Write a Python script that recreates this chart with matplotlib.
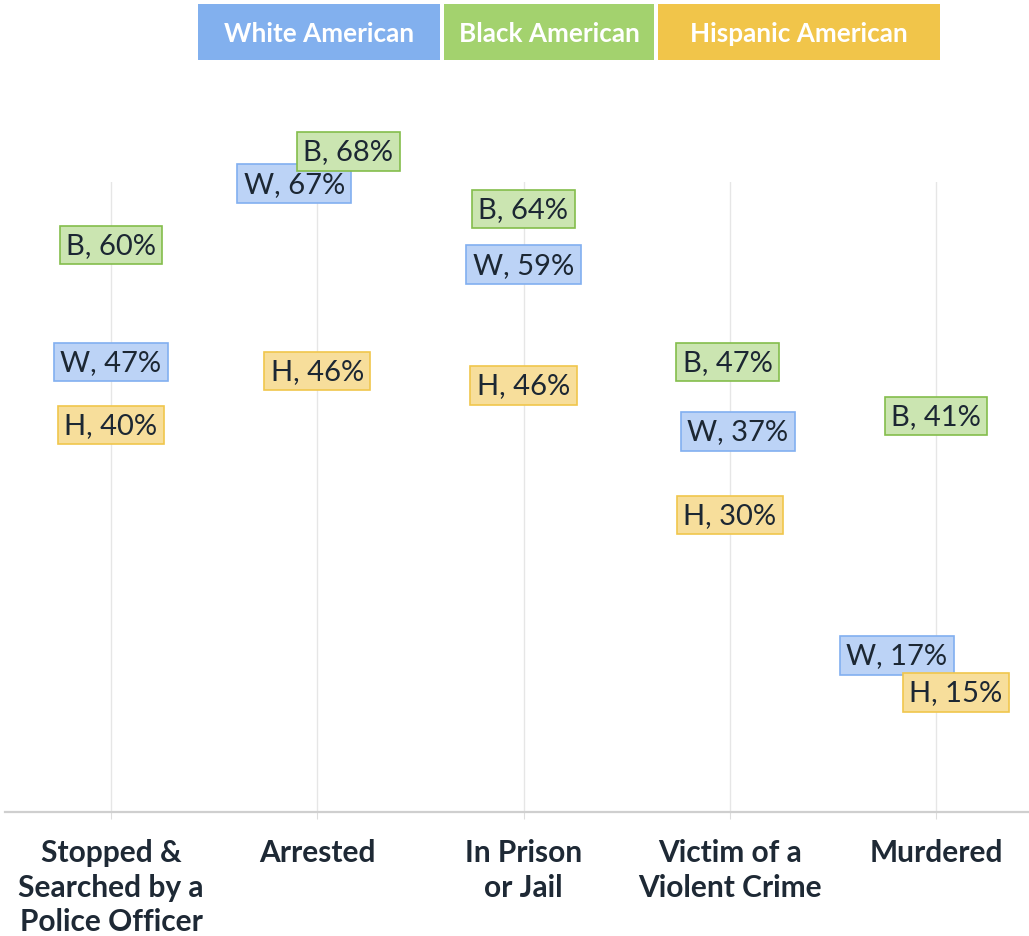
import matplotlib.pyplot as plt
from matplotlib.patches import Rectangle

plt.rcParams['font.family'] = ['Lato', 'DejaVu Sans']

# data (percent)
categories = ['Stopped &\nSearched by a\nPolice Officer', 'Arrested',
              'In Prison\nor Jail', 'Victim of a\nViolent Crime', 'Murdered']
white = [47, 67, 59, 37, 17]
black = [60, 68, 64, 47, 41]
hispanic = [40, 46, 46, 30, 15]

# label nudges so overlapping boxes stay readable (x in px, y in %)
white_dx = [0, -23, 0, 8, -39]
white_dy = [0, -0.2, -1.2, 2.3, -2.6]
black_dx = [0, 31, 0, -2, 0]
black_dy = [0, 2.4, 0, 0, 0]
hisp_dx = [0, 0, 0, 0, 20]
hisp_dy = [0, 0, -1.6, 0, -4.7]

W, H = 1029, 937
fig = plt.figure(figsize=(W / 100, H / 100), dpi=100)

# panel spans x 5..1029 px, y 183..813 px
ax = fig.add_axes([5 / W, (H - 813) / H, 1024 / W, (813 - 183) / H])
step = 206.25  # px between categories
x0 = 111
ax.set_xlim((5 - x0) / step, (1029 - x0) / step)
ax.set_ylim(-3.0, 67.0)

for s in ['top', 'right', 'left']:
    ax.spines[s].set_visible(False)
ax.spines['bottom'].set_color('#cfcfcf')
ax.spines['bottom'].set_linewidth(1.6)
ax.set_yticks([])

xs = list(range(len(categories)))
for x in xs:
    ax.axvline(x, color='#e6e6e6', lw=1, zorder=0)

ax.set_xticks(xs)
ax.set_xticklabels(categories, fontsize=21.5, fontweight='bold', color='#1e2935',
                   linespacing=1.28)
ax.tick_params(axis='x', length=5, color='#dddddd', pad=14)

series = [
    ('W', white, white_dx, white_dy, '#bcd3f6', '#82aff0'),
    ('B', black, black_dx, black_dy, '#cbe5b1', '#84bd4c'),
    ('H', hispanic, hisp_dx, hisp_dy, '#f7de9b', '#f0c64c'),
]
for z, (tag, vals, dxs, dys, fc, ec) in enumerate(series):
    for x, v, dx, dy in zip(xs, vals, dxs, dys):
        ax.text(x + dx / step, v + dy, '%s, %d%%' % (tag, v), ha='center',
                va='center', fontsize=21, color='#1c2733', clip_on=False,
                zorder=3 + z,
                bbox=dict(boxstyle='square,pad=0.22', fc=fc, ec=ec, lw=1.2))

# legend boxes across the top
legend = [('White American', '#82b0ee', 198, 440),
          ('Black American', '#a3d26e', 444, 654),
          ('Hispanic American', '#f1c54a', 658, 940)]
for name, col, left, right in legend:
    fig.patches.append(Rectangle((left / W, (H - 61) / H), (right - left) / W,
                                 56 / H, transform=fig.transFigure,
                                 fc=col, ec='none'))
    fig.text((left + right) / 2 / W, (H - 34) / H, name, ha='center',
             va='center', fontsize=18.8, fontweight='bold', color='white')

fig.savefig('out.png', dpi=100)
